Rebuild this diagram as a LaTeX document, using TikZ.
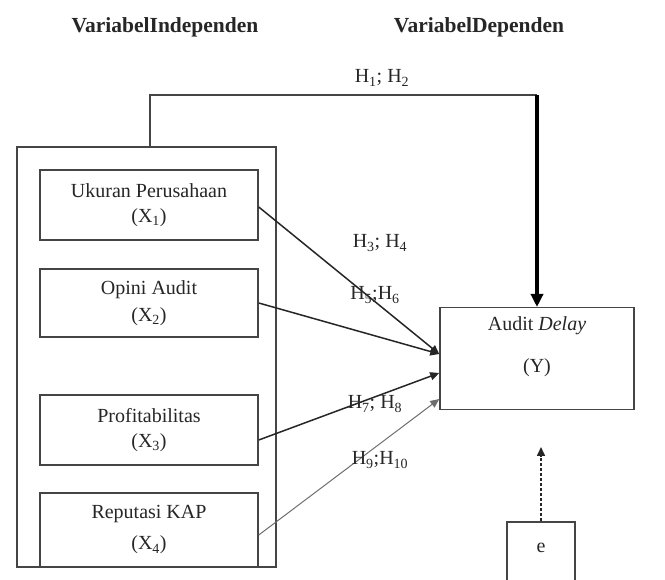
\documentclass[tikz,border=0pt]{standalone}
\usepackage{fontspec}
\setmainfont{Liberation Serif}
\usepackage{xcolor}
\definecolor{ink}{HTML}{262626}
\definecolor{rule}{HTML}{454545}
\definecolor{faint}{HTML}{6E6E6E}
\usetikzlibrary{arrows.meta,positioning,calc}
\tikzset{
  every picture/.style={line width=1.5pt},
  varbox/.style={draw=rule, fill=white, align=center, inner sep=0pt, text=ink,
    minimum width=218pt, minimum height=#1, font=\fontsize{20}{25}\selectfont},
  varbox/.default=70pt,
  hlabel/.style={font=\fontsize{20}{22}\selectfont, text=ink, inner sep=1pt},
  heading/.style={font=\fontsize{21.5}{24}\selectfont\bfseries, text=ink},
  arrow/.style={-{Triangle[length=9pt,width=8pt]}, draw=ink},
  thickarrow/.style={-{Triangle[length=13pt,width=12pt]}, draw=black, line width=3.4pt},
  dotarrow/.style={-{Triangle[length=9pt,width=8pt]}, draw=ink, line width=1.6pt, dash pattern=on 3pt off 2pt},
}
\begin{document}
\begin{tikzpicture}[x=1pt, y=-1pt]
  \useasboundingbox (0,0) rectangle (665,580);
  \clip (0,0) rectangle (665,580);
  % headings
  \node[heading] (hind) at (165,27) {VariabelIndependen};
  \node[heading] (hdep) at (479,27) {VariabelDependen};
  % independent variables
  \node[draw=rule, minimum width=259pt, minimum height=420pt] (indep) at (146.5,357) {};
  \node[varbox] (x1) at (149,205) {Ukuran Perusahaan\\(X\textsubscript{1})};
  \node[varbox=68pt] (x2) at (149,303) {Opini Audit\\[2pt](X\textsubscript{2})};
  \node[varbox] (x3) at (149,430) {Profitabilitas\\(X\textsubscript{3})};
  \node[varbox=74pt] (x4) at (149,530) {Reputasi KAP\\[6pt](X\textsubscript{4})};
  % dependent variable and error term
  \node[varbox=0pt, minimum width=194pt, anchor=north, text height=65pt, text depth=37pt] (ad) at (537,307)
    {Audit \textit{Delay}\\[17pt](Y)};
  \node[draw=rule, anchor=north, minimum width=68pt, inner sep=0pt, text height=31pt, text depth=45pt,
    font=\fontsize{20}{22}\selectfont, text=ink] (e) at (541,521) {e};
  \coordinate (htop) at (150,95);
  \coordinate (etip) at (541,447);
  % connectors
  \draw[rule] (indep.north -| htop) |- (ad.north |- htop);
  \draw[thickarrow] (ad.north |- htop) -- (ad.north);
  \draw[arrow] ([yshift=-2pt]x1.east) -- ($(ad.north west)+(0,47)$);
  \draw[arrow] (x2.east) -- ($(ad.north west)+(0,47)$);
  \draw[arrow] ([yshift=-10pt]x3.east) -- ($(ad.north west)+(0,66)$);
  \draw[arrow, draw=faint, line width=1pt] ([yshift=-5pt]x4.east) -- ($(ad.north west)+(0,92)$);
  \draw[dotarrow] (e.north) -- (etip);
  % hypothesis labels
  \node[hlabel] (h12) at (382,78) {H\textsubscript{1}; H\textsubscript{2}};
  \node[hlabel] (h34) at (380,243) {H\textsubscript{3}; H\textsubscript{4}};
  \node[hlabel] (h56) at (375,295) {H\textsubscript{5};H\textsubscript{6}};
  \node[hlabel] (h78) at (375,404) {H\textsubscript{7}; H\textsubscript{8}};
  \node[hlabel] (h910) at (380,460) {H\textsubscript{9};H\textsubscript{10}};
\end{tikzpicture}
\end{document}
